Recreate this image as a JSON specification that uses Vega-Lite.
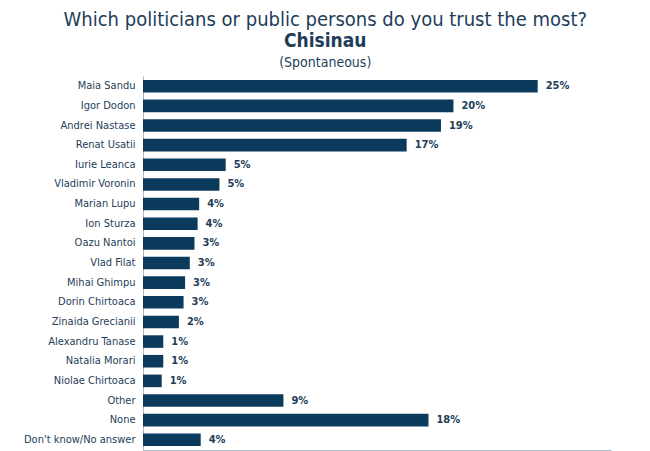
{
  "$schema": "https://vega.github.io/schema/vega-lite/v6.json",
  "background": "white",
  "autosize": {"type": "pad"},
  "padding": {"left": 23, "top": 10, "right": 5, "bottom": 0},
  "title": {
    "text": "Which politicians or public persons do you trust the most?",
    "font": "DejaVu Sans Condensed",
    "fontSize": 20,
    "fontWeight": "normal",
    "color": "#1e3d59",
    "anchor": "middle",
    "frame": "bounds",
    "offset": 2,
    "dx": 8
  },
  "vconcat": [
    {
      "title": {
        "text": "Chisinau",
        "subtitle": "(Spontaneous)",
        "font": "DejaVu Sans Condensed",
        "fontSize": 19,
        "fontWeight": "bold",
        "color": "#1e3d59",
        "subtitleFont": "DejaVu Sans Condensed",
        "subtitleFontSize": 14,
        "subtitleColor": "#1e3d59",
        "subtitlePadding": 5,
        "anchor": "middle",
        "frame": "bounds",
        "offset": 6,
        "dx": 8
      },
      "width": 468,
      "height": 374,
      "data": {
        "values": [
          {"name": "Maia Sandu", "value": 25.3, "label": "25%"},
          {"name": "Igor Dodon", "value": 19.9, "label": "20%"},
          {"name": "Andrei Nastase", "value": 19.1, "label": "19%"},
          {"name": "Renat Usatii", "value": 16.9, "label": "17%"},
          {"name": "Iurie Leanca", "value": 5.3, "label": "5%"},
          {"name": "Vladimir Voronin", "value": 4.9, "label": "5%"},
          {"name": "Marian Lupu", "value": 3.6, "label": "4%"},
          {"name": "Ion Sturza", "value": 3.5, "label": "4%"},
          {"name": "Oazu Nantoi", "value": 3.3, "label": "3%"},
          {"name": "Vlad Filat", "value": 3.0, "label": "3%"},
          {"name": "Mihai Ghimpu", "value": 2.7, "label": "3%"},
          {"name": "Dorin Chirtoaca", "value": 2.6, "label": "3%"},
          {"name": "Zinaida Grecianii", "value": 2.3, "label": "2%"},
          {"name": "Alexandru Tanase", "value": 1.3, "label": "1%"},
          {"name": "Natalia Morari", "value": 1.3, "label": "1%"},
          {"name": "Niolae Chirtoaca", "value": 1.2, "label": "1%"},
          {"name": "Other", "value": 9.0, "label": "9%"},
          {"name": "None", "value": 18.3, "label": "18%"},
          {"name": "Don't know/No answer", "value": 3.7, "label": "4%"}
        ]
      },
      "encoding": {
        "y": {
          "field": "name",
          "type": "nominal",
          "sort": null,
          "scale": {"paddingInner": 0.36, "paddingOuter": 0.2},
          "axis": {
            "title": null,
            "ticks": false,
            "labelFont": "DejaVu Sans Condensed",
            "labelFontSize": 11,
            "labelColor": "#1e3d59",
            "labelPadding": 8,
            "domainColor": "#a9b8c4",
            "labelLimit": 300
          }
        },
        "x": {
          "field": "value",
          "type": "quantitative",
          "scale": {"domain": [0, 30], "nice": false},
          "axis": {
            "title": null,
            "labels": false,
            "grid": false,
            "values": [0, 5, 10, 15, 20, 25],
            "tickSize": 5,
            "tickColor": "#a9b8c4",
            "domainColor": "#a9b8c4"
          }
        }
      },
      "layer": [
        {"mark": {"type": "bar", "color": "#0b3a5c"}},
        {
          "mark": {
            "type": "text",
            "align": "left",
            "baseline": "middle",
            "dx": 8,
            "font": "DejaVu Sans Condensed",
            "fontSize": 11,
            "fontWeight": "bold",
            "color": "#1e3d59"
          },
          "encoding": {"text": {"field": "label"}}
        }
      ]
    }
  ],
  "config": {"view": {"stroke": null}, "concat": {"spacing": 0}}
}
